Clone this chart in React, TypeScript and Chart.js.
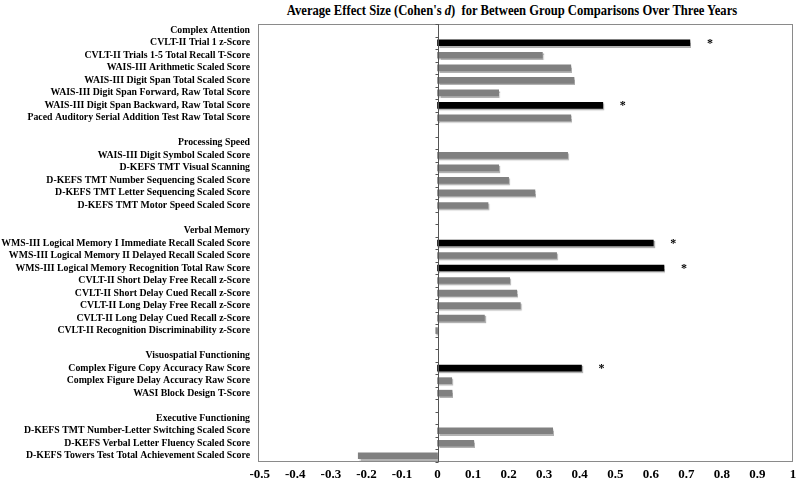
import React, { useEffect, useRef } from 'react';
import { Chart, registerables } from 'chart.js';

Chart.register(...registerables);

const groupNames = [
  'Complex Attention',
  'Processing Speed',
  'Verbal Memory',
  'Visuospatial Functioning',
  'Executive Functioning',
];

const complexAttentionTests = [
  'CVLT-II Trial 1 z-Score',
  'CVLT-II Trials 1-5 Total Recall T-Score',
  'WAIS-III Arithmetic Scaled Score',
  'WAIS-III Digit Span Total Scaled Score',
  'WAIS-III Digit Span Forward, Raw Total Score',
  'WAIS-III Digit Span Backward, Raw Total Score',
  'Paced Auditory Serial Addition Test Raw Total Score',
];
const complexAttentionD = [0.71, 0.295, 0.375, 0.384, 0.172, 0.465, 0.375];
const complexAttentionSig = [true, false, false, false, false, true, false];

const processingSpeedTests = [
  'WAIS-III Digit Symbol Scaled Score',
  'D-KEFS TMT Visual Scanning',
  'D-KEFS TMT Number Sequencing Scaled Score',
  'D-KEFS TMT Letter Sequencing Scaled Score',
  'D-KEFS TMT Motor Speed Scaled Score',
];
const processingSpeedD = [0.366, 0.172, 0.2, 0.274, 0.142];
const processingSpeedSig = [false, false, false, false, false];

const verbalMemoryTests = [
  'WMS-III Logical Memory I Immediate Recall Scaled Score',
  'WMS-III Logical Memory II Delayed Recall Scaled Score',
  'WMS-III Logical Memory Recognition Total Raw Score',
  'CVLT-II Short Delay Free Recall z-Score',
  'CVLT-II Short Delay Cued Recall z-Score',
  'CVLT-II Long Delay Free Recall z-Score',
  'CVLT-II Long Delay Cued Recall z-Score',
  'CVLT-II Recognition Discriminability z-Score',
];
const verbalMemoryD = [0.607, 0.335, 0.637, 0.203, 0.223, 0.233, 0.132, -0.005];
const verbalMemorySig = [true, false, true, false, false, false, false, false];

const visuospatialTests = [
  'Complex Figure Copy Accuracy Raw Score',
  'Complex Figure Delay Accuracy Raw Score',
  'WASI Block Design T-Score',
];
const visuospatialD = [0.405, 0.04, 0.041];
const visuospatialSig = [true, false, false];

const executiveTests = [
  'D-KEFS TMT Number-Letter Switching Scaled Score',
  'D-KEFS Verbal Letter Fluency Scaled Score',
  'D-KEFS Towers Test Total Achievement Scaled Score',
];
const executiveD = [0.324, 0.102, -0.223];
const executiveSig = [false, false, false];

const xTickValues = [-0.5, -0.4, -0.3, -0.2, -0.1, 0, 0.1, 0.2, 0.3, 0.4, 0.5, 0.6, 0.7, 0.8, 0.9, 1];
const xTickLabels = ['-0.5', '-0.4', '-0.3', '-0.2', '-0.1', '0', '0.1', '0.2', '0.3', '0.4', '0.5', '0.6', '0.7', '0.8', '0.9', '1'];

function buildRows() {
  const groups = [
    [complexAttentionTests, complexAttentionD, complexAttentionSig],
    [processingSpeedTests, processingSpeedD, processingSpeedSig],
    [verbalMemoryTests, verbalMemoryD, verbalMemorySig],
    [visuospatialTests, visuospatialD, visuospatialSig],
    [executiveTests, executiveD, executiveSig],
  ] as [string[], number[], boolean[]][];
  const labels: string[] = [];
  const values: (number | null)[] = [];
  const sig: boolean[] = [];
  groups.forEach(([tests, d, s], gi) => {
    if (gi > 0) {
      labels.push('');
      values.push(null);
      sig.push(false);
    }
    labels.push(groupNames[gi]);
    values.push(null);
    sig.push(false);
    tests.forEach((t, i) => {
      labels.push(t);
      values.push(d[i]);
      sig.push(s[i]);
    });
  });
  return { labels, values, sig };
}

const FONT = "'Liberation Serif', 'Times New Roman', serif";

export default function App() {
  const ref = useRef<HTMLCanvasElement>(null);

  useEffect(() => {
    const { labels, values, sig } = buildRows();
    const colors = sig.map((s) => (s ? '#000000' : '#808080'));

    const shadowPlugin = {
      id: 'barShadow',
      beforeDatasetDraw(chart: any) {
        const ctx = chart.ctx;
        ctx.save();
        ctx.shadowColor = 'rgba(0,0,0,0.3)';
        ctx.shadowOffsetX = 1;
        ctx.shadowOffsetY = 1.5;
        ctx.shadowBlur = 1;
      },
      afterDatasetDraw(chart: any) {
        chart.ctx.restore();
      },
    };

    const framePlugin = {
      id: 'frame',
      afterDatasetsDraw(chart: any) {
        const ctx = chart.ctx;
        const { left, right, top, bottom } = chart.chartArea;
        const xs = chart.scales.x;
        const ys = chart.scales.y;
        ctx.save();
        ctx.strokeStyle = '#8a8a8a';
        ctx.lineWidth = 1;
        ctx.strokeRect(Math.round(left) + 0.5, Math.round(top) + 0.5, Math.round(right - left) - 1, Math.round(bottom - top) - 1);
        const x0 = Math.round(xs.getPixelForValue(0)) + 0.5;
        ctx.strokeStyle = '#555555';
        ctx.beginPath();
        ctx.moveTo(x0, top);
        ctx.lineTo(x0, bottom);
        ctx.stroke();
        const n = labels.length;
        const step = (bottom - top) / n;
        ctx.beginPath();
        for (let k = 0; k <= n; k++) {
          const y = Math.round(top + k * step) + 0.5;
          ctx.moveTo(x0 - 3, y);
          ctx.lineTo(x0, y);
        }
        ctx.stroke();
        const meta = chart.getDatasetMeta(0);
        ctx.fillStyle = '#000';
        ctx.font = `bold 12px ${FONT}`;
        ctx.textAlign = 'center';
        ctx.textBaseline = 'middle';
        sig.forEach((s, i) => {
          if (!s) return;
          const el = meta.data[i];
          ctx.fillText('*', el.x + 20, ys.getPixelForValue(i) + 1);
        });
        ctx.restore();
      },
    };

    const chart = new Chart(ref.current as HTMLCanvasElement, {
      type: 'bar',
      data: {
        labels,
        datasets: [
          {
            data: values as any,
            backgroundColor: colors,
            borderWidth: 0,
            barThickness: 6,
          },
        ],
      },
      options: {
        indexAxis: 'y',
        responsive: false,
        animation: false,
        layout: { padding: { top: 24, right: 7, left: 0, bottom: 0 } },
        plugins: {
          legend: { display: false },
          tooltip: { enabled: false },
          title: { display: false },
        },
        scales: {
          x: {
            type: 'linear',
            min: -0.505,
            max: 1,
            afterBuildTicks: (s: any) => {
              s.ticks = xTickValues.map((v) => ({ value: v }));
            },
            afterFit: (s: any) => {
              s.height = 22;
            },
            grid: { display: false },
            border: { display: false },
            ticks: {
              autoSkip: false,
              maxRotation: 0,
              padding: -3,
              color: '#000',
              font: { family: FONT, size: 13, weight: 'bold' },
              callback: (v: any) => {
                const idx = xTickValues.findIndex((t) => Math.abs(t - Number(v)) < 1e-9);
                return idx >= 0 ? xTickLabels[idx] : '';
              },
            },
          },
          y: {
            afterFit: (s: any) => {
              s.width = 258;
            },
            grid: { display: false },
            border: { display: false },
            ticks: {
              autoSkip: false,
              padding: 0,
              color: '#000',
              font: { family: FONT, size: 9.8, weight: 'bold' },
            },
          },
        },
      },
      plugins: [shadowPlugin, framePlugin],
    });
    return () => chart.destroy();
  }, []);

  return (
    <div style={{ position: 'absolute', left: 0, top: 0, width: 800, height: 484, background: '#fff' }}>
      <div
        style={{
          position: 'absolute',
          top: 3,
          left: 512,
          transform: 'translateX(-50%) scaleX(0.9)',
          whiteSpace: 'nowrap',
          fontFamily: FONT,
          fontWeight: 'bold',
          fontSize: 14,
          color: '#000',
        }}
      >
        Average Effect Size (Cohen's <i>d</i>)&nbsp; for Between Group Comparisons Over Three Years
      </div>
      <canvas ref={ref} width={800} height={484} style={{ position: 'absolute', left: 0, top: 0 }} />
    </div>
  );
}
